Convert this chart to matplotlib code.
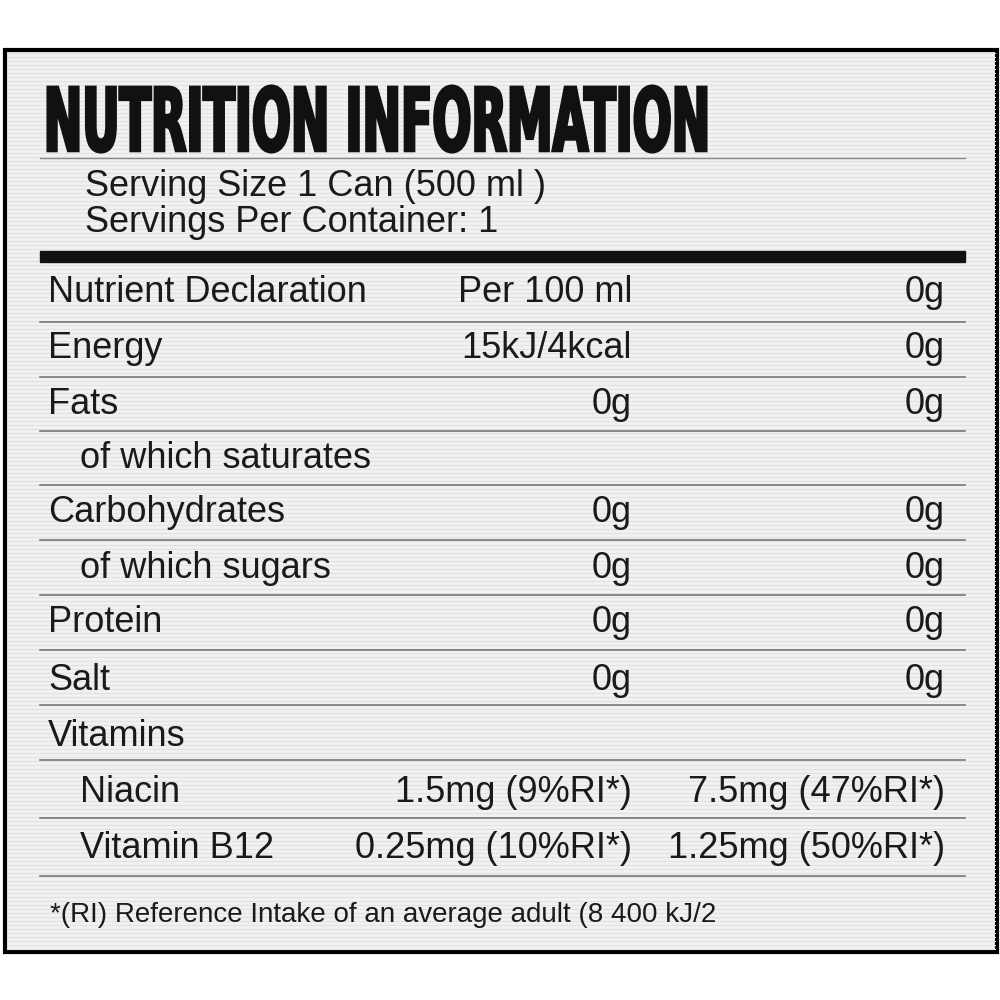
import matplotlib
matplotlib.use("Agg")
import matplotlib.pyplot as plt
from matplotlib.textpath import TextPath
from matplotlib.patches import PathPatch, Rectangle
from matplotlib.font_manager import FontProperties
from matplotlib.transforms import Affine2D
import numpy as np

title = "NUTRITION INFORMATION"
serving = ["Serving Size 1 Can (500 ml )", "Servings Per Container: 1"]
labels = ["Nutrient Declaration", "Energy", "Fats", "of which saturates", "Carbohydrates",
          "of which sugars", "Protein", "Salt", "Vitamins", "Niacin", "Vitamin B12"]
indent = [0, 0, 0, 1, 0, 1, 0, 0, 0, 1, 1]
per100 = ["Per 100 ml", "15kJ/4kcal", "0g", "", "0g", "0g", "0g", "0g", "", "1.5mg (9%RI*)", "0.25mg (10%RI*)"]
perserv = ["0g", "0g", "0g", "", "0g", "0g", "0g", "0g", "", "7.5mg (47%RI*)", "1.25mg (50%RI*)"]
footnote = "*(RI) Reference Intake of an average adult (8 400 kJ/2"

fig = plt.figure(figsize=(10, 10), dpi=100)
ax = fig.add_axes([0, 0, 1, 1])
ax.set_xlim(0, 1000); ax.set_ylim(1000, 0); ax.axis("off")
fig.patch.set_facecolor("white")
ax.add_patch(Rectangle((5, 50), 992, 902, facecolor="#f1f1f1", edgecolor="black", lw=3))
for y in np.arange(53, 950, 4):
    ax.plot([7, 995], [y, y], color="#e2e2e2", lw=0.8, zorder=1)

fp = FontProperties(family="DejaVu Sans", weight="bold", stretch="condensed")
tp = TextPath((0, 0), title, size=100, prop=fp)
bb = tp.get_extents()
x0, x1, ytop, ybot = 48, 706, 86, 152
sx = (x1 - x0) / bb.width; sy = (ybot - ytop) / bb.height
tr = Affine2D().translate(-bb.x0, -bb.y0).scale(sx, -sy).translate(x0, ybot)
ax.add_patch(PathPatch(tr.transform_path(tp), facecolor="#111", edgecolor="#111", lw=2.2, zorder=3))

kw = dict(family="Liberation Sans", fontsize=26, color="#1a1a1a", va="center", zorder=3)
ax.plot([40, 965], [158, 158], color="#888", lw=1, zorder=2)
ax.text(85, 187, serving[0], **kw)
ax.text(85, 223, serving[1], **kw)
ax.add_patch(Rectangle((40, 251), 925, 11, color="#111", zorder=2))

rows_y = [293, 349, 404, 458, 513, 568, 623, 680, 737, 792, 848]
seps = [322, 377, 431, 485, 540, 595, 650, 705, 760, 818, 876]
for i, y in enumerate(rows_y):
    ax.text(48 + 32 * indent[i], y, labels[i], ha="left", **kw)
    ax.text(632, y, per100[i], ha="right", **kw)
    ax.text(945, y, perserv[i], ha="right", **kw)
    ax.plot([40, 965], [seps[i], seps[i]], color="#777", lw=1.2, zorder=2)
ax.text(50, 915, footnote, ha="left", **{**kw, "fontsize": 20})
fig.savefig("out.png", dpi=100)
